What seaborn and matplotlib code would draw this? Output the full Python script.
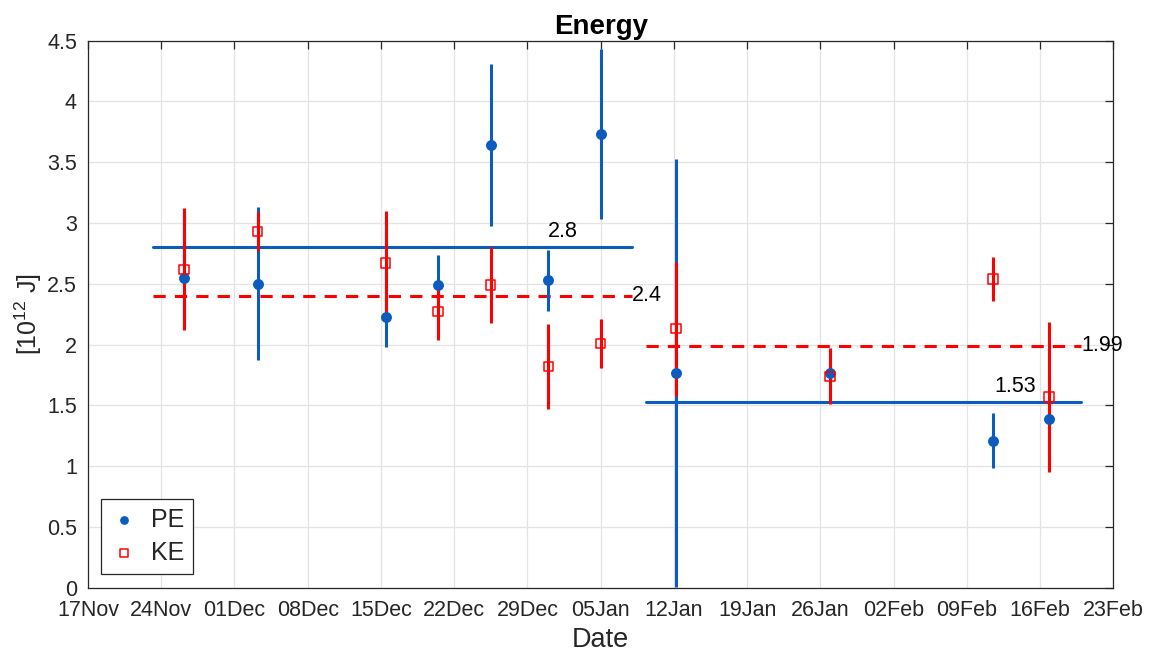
import numpy as np
import pandas as pd
import matplotlib
matplotlib.use("Agg")
import matplotlib.pyplot as plt
import matplotlib.dates as mdates
import seaborn as sns

# ---- data ----
dates = ["2013-11-26 04:00", "2013-12-03 05:00", "2013-12-15 11:00", "2013-12-20 11:00",
         "2013-12-25 12:00", "2013-12-31 00:00", "2014-01-05 00:00", "2014-01-12 05:00",
         "2014-01-26 22:00", "2014-02-11 12:00", "2014-02-16 20:00"]
pe = [2.55, 2.50, 2.23, 2.49, 3.64, 2.53, 3.73, 1.77, 1.77, 1.21, 1.39]
pe_err = [0.34, 0.63, 0.25, 0.25, 0.665, 0.25, 0.70, 1.76, 0.10, 0.225, 0.37]
ke = [2.62, 2.93, 2.67, 2.27, 2.49, 1.82, 2.01, 2.13, 1.74, 2.54, 1.57]
ke_err = [0.50, 0.16, 0.43, 0.23, 0.31, 0.35, 0.20, 0.55, 0.23, 0.18, 0.615]

pe_means = [2.8, 1.53]
ke_means = [2.4, 1.99]
period_start = ["2013-11-23 05:00", "2014-01-09 08:00"]
period_end = ["2014-01-08 00:00", "2014-02-19 22:00"]

xticks = pd.date_range("2013-11-17", "2014-02-23", freq="7D")

df = pd.DataFrame({"date": pd.to_datetime(dates), "PE": pe, "PE_err": pe_err,
                   "KE": ke, "KE_err": ke_err})

BLUE = "#0b5cbe"
RED = "#ff0000"
DARK = "#262626"

sns.set_theme(style="whitegrid")
plt.rcParams["font.family"] = ["Liberation Sans", "DejaVu Sans"]
plt.rcParams["mathtext.fontset"] = "custom"
plt.rcParams["mathtext.rm"] = "Liberation Sans"
plt.rcParams["mathtext.it"] = "Liberation Sans:italic"
plt.rcParams["mathtext.bf"] = "Liberation Sans:bold"

fig = plt.figure(figsize=(11.49, 6.55), dpi=100)
ax = fig.add_axes([0.0766, 0.1027, 0.8924, 0.8352])

# mean lines
for m, s, e in zip(pe_means, period_start, period_end):
    ax.plot([pd.Timestamp(s), pd.Timestamp(e)], [m, m], color=BLUE, lw=2.2, zorder=2)
for m, s, e in zip(ke_means, period_start, period_end):
    ax.plot([pd.Timestamp(s), pd.Timestamp(e)], [m, m], color=RED, lw=2.2,
            ls=(0, (4, 3)), zorder=2)

# error bars
ax.errorbar(df["date"], df["PE"], yerr=df["PE_err"], fmt="none", ecolor=BLUE,
            elinewidth=2.2, capsize=0, zorder=3)
ax.errorbar(df["date"], df["KE"], yerr=df["KE_err"], fmt="none", ecolor=RED,
            elinewidth=2.2, capsize=0, zorder=4)

# points
sns.scatterplot(data=df, x="date", y="PE", ax=ax, color=BLUE, s=62,
                edgecolor=BLUE, linewidth=0, zorder=5, label="PE")
sns.scatterplot(data=df, x="date", y="KE", ax=ax, marker="s", s=45,
                facecolor="none", edgecolor=RED, linewidth=1.1, zorder=6, label="KE")

# mean labels
fs_ann = 15.5
ax.text(pd.Timestamp("2014-01-01 10:00"), pe_means[0] + 0.04, f"{pe_means[0]}",
        ha="center", va="bottom", fontsize=fs_ann, color="black")
ax.text(pd.Timestamp(period_end[0]), ke_means[0], f"{ke_means[0]}",
        ha="left", va="center", fontsize=fs_ann, color="black")
ax.text(pd.Timestamp("2014-02-13 14:00"), pe_means[1] + 0.04, f"{pe_means[1]}",
        ha="center", va="bottom", fontsize=fs_ann, color="black")
ax.text(pd.Timestamp(period_end[1]), ke_means[1], f"{ke_means[1]}",
        ha="left", va="center", fontsize=fs_ann, color="black")

ax.set_xlim(xticks[0], xticks[-1])
ax.set_ylim(0, 4.5)
ax.set_xticks(xticks)
ax.xaxis.set_major_formatter(mdates.DateFormatter("%d%b"))
ax.set_yticks(np.arange(0, 4.51, 0.5))
ax.set_yticklabels([f"{v:g}" for v in np.arange(0, 4.51, 0.5)])

ax.set_facecolor("white")
ax.grid(True, color="#e3e3e3", lw=0.9)
for sp in ax.spines.values():
    sp.set_visible(True)
    sp.set_color(DARK)
    sp.set_linewidth(0.9)
ax.tick_params(axis="both", which="both", direction="in", length=6, width=0.9,
               colors=DARK, labelsize=15.5, top=True, right=True,
               labeltop=False, labelright=False)
ax.tick_params(axis="x", pad=9)
ax.tick_params(axis="y", pad=8)
for lab in ax.get_xticklabels() + ax.get_yticklabels():
    lab.set_color(DARK)

ax.set_xlabel("Date", fontsize=19.5, color=DARK, labelpad=4)
ax.set_ylabel("[10$^{12}$ J]", fontsize=18, color=DARK, labelpad=2)
ax.set_title("Energy", fontsize=20, fontweight="bold", color="black", pad=5)

leg = ax.legend(loc="lower left", bbox_to_anchor=(0.0127, 0.026), fontsize=18,
                frameon=True, fancybox=False, edgecolor=DARK, framealpha=1,
                handletextpad=0.5, borderpad=0.35, labelspacing=0.35,
                handlelength=1.15, markerscale=0.8, borderaxespad=0)
leg.get_frame().set_linewidth(0.9)

fig.savefig("out.png", dpi=100)
